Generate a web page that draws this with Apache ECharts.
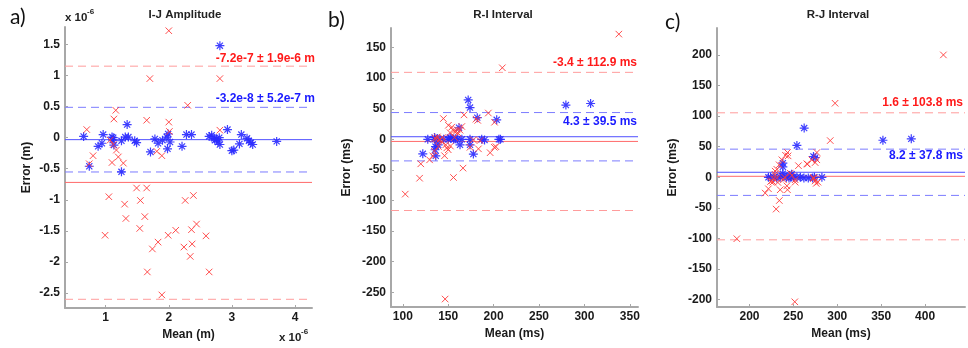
<!DOCTYPE html>
<html>
<head>
<meta charset="utf-8">
<script src="https://cdn.jsdelivr.net/npm/echarts@6/dist/echarts.min.js"></script>
<style>html,body{margin:0;padding:0;background:#fff;}#c{width:968px;height:348px;}</style>
</head>
<body>
<div id="c"></div>
<script>
// ---------- Panel a: I-J Amplitude (values in units of 1e-6 m) ----------
const ampRedMean = [2.0,1.70,2.81,2.30,1.16,1.13,1.65,2.0,0.70,2.01,2.81,1.07,1.12,1.17,0.80,1.20,1.10,1.28,0.74,1.81,1.89,1.49,1.65,1.05,1.55,1.30,2.26,2.39,1.32,1.62,1.54,0.99,1.99,2.11,2.36,2.44,2.59,1.83,1.74,2.24,2.37,2.34,1.66,2.64,1.89];
const ampRedErr  = [1.72,0.95,0.95,0.52,0.44,0.30,0.28,0.25,0.13,0.10,0.12,-0.04,-0.11,-0.20,-0.29,-0.31,-0.40,-0.41,-0.42,-0.22,-0.29,-0.81,-0.81,-0.95,-1.01,-1.07,-1.01,-0.93,-1.30,-1.27,-1.46,-1.57,-1.57,-1.49,-1.48,-1.39,-1.58,-1.68,-1.79,-1.76,-1.71,-1.91,-2.16,-2.16,-2.53];
const ampBlueMean = [0.65,0.74,0.88,0.94,0.96,1.10,1.11,1.12,1.13,1.25,1.31,1.36,1.34,1.46,1.49,1.25,1.71,1.78,1.83,1.90,1.97,1.99,2.02,1.98,2.21,2.28,2.36,2.64,2.68,2.72,2.73,2.76,2.78,2.81,2.80,2.81,2.93,3.00,3.03,3.12,3.15,3.24,3.27,3.30,3.33,3.71];
const ampBlueErr  = [0.02,-0.46,-0.14,-0.09,0.05,0.01,-0.04,0.0,-0.12,-0.05,0.01,0.01,0.21,-0.05,-0.08,-0.55,-0.23,-0.02,-0.09,-0.04,0.01,0.06,-0.07,-0.18,-0.14,0.05,0.05,0.02,0.04,-0.01,-0.04,-0.02,-0.07,-0.11,0.0,1.48,0.13,-0.21,-0.20,-0.10,0.05,-0.01,-0.05,-0.08,-0.11,-0.06];
const ampRedLines  = [-0.72, 1.15, -2.60];   // mean, upper, lower
const ampBlueLines = [-0.032, 0.488, -0.552];
const ampXTicks = [1, 2, 3, 4];
const ampYTicks = [-2.5, -2, -1.5, -1, -0.5, 0, 0.5, 1, 1.5];

// ---------- Panel b: R-I Interval (ms) ----------
const riRedMean = [337.9,209.6,102.7,118.5,119.8,129.5,155.8,166.3,167.4,144.7,194.2,201,180.6,182.5,196.2,200.8,202.5,183.3,146,147.3,134.8,133,135.5,137,138,150.2,153.9,158,159.5,161,156,163,165,152,148.4,150,142.9,139.2,152.5,177.7,146.6,174,185,140,144,157];
const riRedErr  = [172,117,-89.5,-63.5,-40,-33.5,-62.3,-47,40,34,43,28,33,31,-21.8,-13,-12,-15.5,-26.7,-9,-19.5,-27,2,0,4,23,20,12,16,10,14,15,21,11,-14,-17,-3.5,-11.7,-11,-0.8,-261,-13,-2,-1,3,3];
const riBlueMean = [172,174,279.6,306.8,182,203.4,122,136.3,177.7,161.9,127.5,135,138,140,145,150,153,156,160,165,174,186.9,190,205.8,207.5,139,135.5,163,174,136,135,152,158];
const riBlueErr  = [64.5,52,56,58.6,35.5,32,-23.7,-27,-24,19,0,0,1,0,0,0,2,0,0,0,0,0,-1,0,0,-9,-17,-9,-9,-12,3,3,1];
const riRedLines  = [-3.4, 109.5, -116.3];
const riBlueLines = [4.3, 43.8, -35.2];
const riXTicks = [100, 150, 200, 250, 300, 350];
const riYTicks = [-250, -200, -150, -100, -50, 0, 50, 100, 150];

// ---------- Panel c: R-J Interval (ms) ----------
const rjRedMean = [420.9,297.5,292,185.6,251.6,230.4,234,217.9,221.6,235,243.3,242.6,243.3,241,244,236.9,233.8,231.2,229.3,229,225.5,227,224,231,238.7,240,246.4,248.3,252,255.8,266,274.8,276.7,276.8,272.9,273,274.8,278,276,226.6,232.3,252,271,265.4];
const rjRedErr  = [200,121,60,-100.4,-203.5,-52,-38,-25.8,-18.8,-20.4,-20.4,-14,40.5,36,35,28.6,20.4,13,10,5,-5.7,-2,-7,-1.4,-4,0,6.8,3,-4,19,21.5,24,28.6,40.5,0,-2,-6,-8,-10,-8,-8.4,-8,28.6,22];
const rjBlueMean = [262.3,254,272.9,274.8,238,238,352,384.3,221.6,224,228,231,235,238,242,245,247,250,254,258,262,267,272,274,282.5,238,246,248];
const rjBlueErr  = [80.5,52,34,32,23,17,60.5,62.8,0,0,0,-1,0,1,0,-1,0,0,0,0,-1,-1,-1,0,0,6,3,5];
const rjRedLines  = [1.6, 105.4, -102.2];
const rjBlueLines = [8.2, 46.0, -29.6];
const rjXTicks = [200, 250, 300, 350, 400];
const rjYTicks = [-200, -150, -100, -50, 0, 50, 100, 150, 200];

const titles = ['I-J Amplitude', 'R-I Interval', 'R-J Interval'];
const panelLetters = ['a)', 'b)', 'c)'];
const xNames = ['Mean (m)', 'Mean (ms)', 'Mean (ms)'];
const yNames = ['Error (m)', 'Error (ms)', 'Error (ms)'];
const redNotes  = ['-7.2e-7 \u00b1 1.9e-6 m', '-3.4 \u00b1 112.9 ms', '1.6 \u00b1 103.8 ms'];
const blueNotes = ['-3.2e-8 \u00b1 5.2e-7 m', '4.3 \u00b1 39.5 ms', '8.2 \u00b1 37.8 ms'];

const RED = '#ff3b3b', BLUE = '#2a2aff';
const FONT = 'Liberation Sans, Arial, sans-serif';
const zip = (a, b) => a.map((v, i) => [v, b[i]]);
const CROSS = 'path://M0,0L10,10M10,0L0,10';
const STAR = 'path://M5,0L5,10M0,5L10,5M1.6,1.6L8.4,8.4M8.4,1.6L1.6,8.4';

const panels = [
  {red: zip(ampRedMean, ampRedErr), blue: zip(ampBlueMean, ampBlueErr), rl: ampRedLines, bl: ampBlueLines,
   xt: ampXTicks, yt: ampYTicks, xmin: 0.355, xmax: 4.27, ymin: -2.74, ymax: 1.78,
   grid: {left: 65, top: 27, width: 247, height: 281}, yGap: 32},
  {red: zip(riRedMean, riRedErr), blue: zip(riBlueMean, riBlueErr), rl: riRedLines, bl: riBlueLines,
   xt: riXTicks, yt: riYTicks, xmin: 87, xmax: 359, ymin: -274, ymax: 182,
   grid: {left: 391, top: 28, width: 247, height: 279}, yGap: 38},
  {red: zip(rjRedMean, rjRedErr), blue: zip(rjBlueMean, rjBlueErr), rl: rjRedLines, bl: rjBlueLines,
   xt: rjXTicks, yt: rjYTicks, xmin: 163, xmax: 445.5, ymin: -212, ymax: 244,
   grid: {left: 717, top: 28, width: 248, height: 279}, yGap: 38}
];

const axisLineStyle = {color: '#a8a8a8', width: 2};
const labelStyle = {color: '#1a1a1a', fontFamily: FONT, fontWeight: 'bold', fontSize: 12};

const option = {
  backgroundColor: '#fff',
  animation: false,
  grid: panels.map(p => Object.assign({containLabel: false}, p.grid)),
  xAxis: panels.map((p, i) => ({
    type: 'value', gridIndex: i, min: p.xmin, max: p.xmax,
    axisLine: {show: true, onZero: false, lineStyle: axisLineStyle},
    axisTick: {show: true, inside: true, length: 3, customValues: p.xt, lineStyle: {color: '#a8a8a8'}},
    axisLabel: Object.assign({customValues: p.xt, margin: 4}, labelStyle),
    splitLine: {show: false},
    name: xNames[i], nameLocation: 'middle', nameGap: 18,
    nameTextStyle: {color: '#1a1a1a', fontFamily: FONT, fontWeight: 'bold', fontSize: 12}
  })),
  yAxis: panels.map((p, i) => ({
    type: 'value', gridIndex: i, min: p.ymin, max: p.ymax,
    axisLine: {show: true, onZero: false, lineStyle: axisLineStyle},
    axisTick: {show: true, inside: true, length: 3, customValues: p.yt, lineStyle: {color: '#a8a8a8'}},
    axisLabel: Object.assign({customValues: p.yt, margin: 5}, labelStyle),
    splitLine: {show: false},
    name: yNames[i], nameLocation: 'middle', nameGap: p.yGap,
    nameTextStyle: {color: '#1a1a1a', fontFamily: FONT, fontWeight: 'bold', fontSize: 12}
  })),
  series: []
};

// horizontal reference line across the full axis extent, as a plain line series
function hLine(i, p, v, color, dashed) {
  option.series.push({
    type: 'line', xAxisIndex: i, yAxisIndex: i, silent: true, symbol: 'none',
    data: [[p.xmin, v], [p.xmax, v]],
    color: color,
    lineStyle: {color: color, width: 1, type: dashed ? [8, 5] : 'solid'},
    emphasis: {disabled: true}, z: 1
  });
}

panels.forEach((p, i) => {
  hLine(i, p, p.bl[0], '#5050ff', false);
  hLine(i, p, p.bl[1], '#7c7cff', true);
  hLine(i, p, p.bl[2], '#7c7cff', true);
  hLine(i, p, p.rl[0], '#ff6a6a', false);
  hLine(i, p, p.rl[1], '#ff9c9c', true);
  hLine(i, p, p.rl[2], '#ff9c9c', true);
  option.series.push({
    type: 'scatter', xAxisIndex: i, yAxisIndex: i, data: p.blue,
    symbol: STAR, symbolSize: 9, z: 3,
    itemStyle: {color: 'none', borderColor: BLUE, borderWidth: 1.2, opacity: 0.9}
  });
  option.series.push({
    type: 'scatter', xAxisIndex: i, yAxisIndex: i, data: p.red,
    symbol: CROSS, symbolSize: 6.5, z: 4,
    itemStyle: {color: 'none', borderColor: RED, borderWidth: 1, opacity: 0.9}
  });
});

const notePos = [
  {x: 315, ry: 59, by: 99},
  {x: 637, ry: 63, by: 122},
  {x: 963, ry: 103, by: 156}
];
const titleX = [185, 503, 838];
const letterPos = [[10, 17], [328, 20], [665, 22]];

const g = [];
for (let i = 0; i < 3; i++) {
  g.push({type: 'text', x: titleX[i], y: 15, style: {text: titles[i], fill: '#222', font: 'bold 11.5px ' + FONT, textAlign: 'center', textVerticalAlign: 'middle'}});
  g.push({type: 'text', x: letterPos[i][0], y: letterPos[i][1], style: {text: panelLetters[i], fill: '#111', font: '21px Lato, "Open Sans", sans-serif', textAlign: 'left', textVerticalAlign: 'middle'}});
  g.push({type: 'text', x: notePos[i].x, y: notePos[i].ry, style: {text: redNotes[i], fill: '#ff1a1a', font: 'bold 12px ' + FONT, textAlign: 'right', textVerticalAlign: 'middle'}});
  g.push({type: 'text', x: notePos[i].x, y: notePos[i].by, style: {text: blueNotes[i], fill: '#1a1aff', font: 'bold 12px ' + FONT, textAlign: 'right', textVerticalAlign: 'middle'}});
}
// exponent labels for panel a
g.push({type: 'text', x: 65, y: 17.5, style: {text: 'x 10', fill: '#222', font: 'bold 11.5px ' + FONT, textAlign: 'left', textVerticalAlign: 'middle'}});
g.push({type: 'text', x: 87, y: 12, style: {text: '-6', fill: '#222', font: 'bold 8px ' + FONT, textAlign: 'left', textVerticalAlign: 'middle'}});
g.push({type: 'text', x: 279, y: 337.5, style: {text: 'x 10', fill: '#222', font: 'bold 11.5px ' + FONT, textAlign: 'left', textVerticalAlign: 'middle'}});
g.push({type: 'text', x: 301, y: 332, style: {text: '-6', fill: '#222', font: 'bold 8px ' + FONT, textAlign: 'left', textVerticalAlign: 'middle'}});
option.graphic = g;

const chart = echarts.init(document.getElementById('c'), null, {renderer: 'canvas'});
chart.setOption(option);
</script>
</body>
</html>
